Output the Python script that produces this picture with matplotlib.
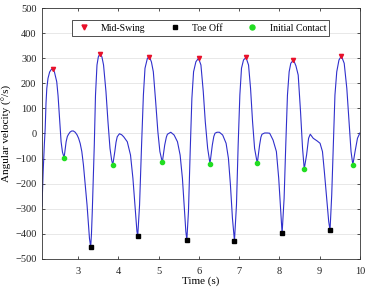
import matplotlib
matplotlib.use("Agg")
import matplotlib.pyplot as plt

plt.rcParams['font.family'] = ['Liberation Serif', 'DejaVu Serif']

# Angular velocity trace (time in s, value in deg/s)
time_s = [2.10, 2.13, 2.16, 2.18, 2.20, 2.22, 2.25, 2.29, 2.33, 2.37, 2.41, 2.44, 2.467, 2.50, 2.525,
          2.55, 2.575, 2.61, 2.65, 2.68, 2.70, 2.73, 2.76, 2.80, 2.84, 2.88, 2.925, 2.97, 3.01, 3.05,
          3.09, 3.13, 3.16, 3.22, 3.28, 3.31, 3.33, 3.35, 3.375, 3.40, 3.43, 3.467, 3.50, 3.52, 3.55,
          3.59, 3.63, 3.69, 3.74, 3.79, 3.83, 3.86, 3.91, 3.94, 3.97, 4.025, 4.08, 4.13, 4.22, 4.30,
          4.36, 4.41, 4.46, 4.48, 4.525, 4.575, 4.62, 4.66, 4.72, 4.77, 4.82, 4.867, 4.925, 4.98, 5.03,
          5.09, 5.15, 5.19, 5.217, 5.30, 5.383, 5.467, 5.533, 5.59, 5.633, 5.675, 5.70, 5.74, 5.783,
          5.825, 5.867, 5.925, 5.99, 6.05, 6.108, 6.158, 6.217, 6.275, 6.333, 6.37, 6.40, 6.45, 6.508,
          6.59, 6.675, 6.733, 6.783, 6.833, 6.883, 6.933, 6.975, 7.017, 7.058, 7.108, 7.17, 7.233,
          7.283, 7.333, 7.383, 7.45, 7.508, 7.54, 7.567, 7.633, 7.70, 7.758, 7.842, 7.925, 7.983, 8.033,
          8.067, 8.117, 8.158, 8.20, 8.242, 8.283, 8.35, 8.41, 8.467, 8.525, 8.575, 8.617, 8.675, 8.725,
          8.767, 8.84, 8.94, 9.01, 9.07, 9.117, 9.175, 9.225, 9.258, 9.30, 9.34, 9.38, 9.425, 9.48,
          9.54, 9.61, 9.675, 9.73, 9.78, 9.825, 9.88, 9.94, 10.0]
velocity = [-290, -150, -40, 20, 120, 180, 220, 245, 255, 257, 245, 225, 206, 150, 87,
            25, -33, -75, -96, -60, -33, -12, -3, 6, 10, 10, 5, -5, -19, -40,
            -72, -125, -179, -285, -418, -452, -400, -311, -180, -46, 153, 273, 305, 312, 318,
            305, 273, 167, 47, -59, -105, -125, -72, -35, -13, -1, -5, -13, -33, -86,
            -179, -285, -391, -407, -285, -46, 153, 260, 300, 306, 285, 246, 127, 7, -72,
            -115, -46, -15, -3, 5, -6, -33, -86, -179, -285, -391, -424, -311, -72,
            140, 246, 286, 300, 273, 167, 47, -59, -120, -46, -12, 1, 5, 5,
            -6, -39, -99, -205, -338, -428, -285, -46, 153, 260, 293, 303, 273,
            180, 47, -59, -119, -46, -15, -3, 2, 2, 1, -26, -72, -179, -311,
            -398, -258, -46, 153, 246, 280, 293, 270, 233, 87, -59, -141, -86, -19,
            -3, -19, -30, -39, -72, -152, -258, -351, -386, -245, -46, 153, 246, 293,
            309, 280, 180, 47, -72, -125, -72, -19, 2]

mid_swing_t = [2.37, 3.55, 4.77, 5.99, 7.17, 8.35, 9.54]
mid_swing_v = [257, 318, 306, 300, 303, 293, 309]
toe_off_t = [3.31, 4.48, 5.70, 6.883, 8.067, 9.258]
toe_off_v = [-452, -407, -424, -428, -398, -386]
initial_contact_t = [2.65, 3.86, 5.09, 6.275, 7.45, 8.617, 9.825]
initial_contact_v = [-96, -125, -115, -120, -119, -141, -125]

x_ticks = [3, 4, 5, 6, 7, 8, 9, 10]
y_ticks = [-500, -400, -300, -200, -100, 0, 100, 200, 300, 400, 500]

fig = plt.figure(figsize=(3.65, 2.88), dpi=100)
ax = fig.add_axes([0.115, 0.101, 0.871, 0.871])

ax.plot(time_s, velocity, color='#3030cc', linewidth=0.8, zorder=2)
ax.plot(mid_swing_t, mid_swing_v, linestyle='none', marker='v', color='#e8102a',
        markersize=3.0, label='Mid-Swing', zorder=3)
ax.plot(toe_off_t, toe_off_v, linestyle='none', marker='s', color='black',
        markersize=2.2, label='Toe Off', zorder=3)
ax.plot(initial_contact_t, initial_contact_v, linestyle='none', marker='o', color='#22dd22',
        markersize=3.0, label='Initial Contact', zorder=3)

ax.set_xlim(2.1, 10)
ax.set_ylim(-500, 500)
ax.set_xticks(x_ticks)
ax.set_yticks(y_ticks)
ax.grid(axis='y', color='#e4e4e4', linewidth=0.6)
ax.set_axisbelow(True)
ax.tick_params(direction='in', top=True, right=True, labelsize=7.5, length=2.5,
               width=0.6, colors='#333333', labelcolor='#222222', pad=4)
ax.tick_params(axis='x', pad=6)
for s in ax.spines.values():
    s.set_linewidth(0.6)
    s.set_color('#333333')

ax.set_xlabel('Time (s)', fontsize=8, labelpad=0)
ax.set_ylabel('Angular velocity (°/s)', fontsize=8, labelpad=2)

leg = ax.legend(loc='upper center', bbox_to_anchor=(0.5, 0.97), ncol=3, fontsize=7,
                frameon=True, fancybox=False, edgecolor='#333333', framealpha=1,
                handletextpad=1.0, columnspacing=2.2, borderpad=0.35, handlelength=1.6,
                markerscale=1.2)
leg.get_frame().set_linewidth(0.6)

fig.savefig('out.png', dpi=100)
